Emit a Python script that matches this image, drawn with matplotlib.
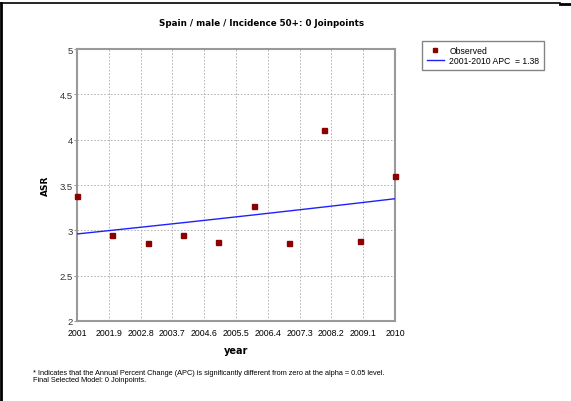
import numpy as np
import matplotlib
matplotlib.use('Agg')
import matplotlib.pyplot as plt
from matplotlib.lines import Line2D

years = [2001, 2002, 2003, 2004, 2005, 2006, 2007, 2008, 2009, 2010]
asr = [3.38, 2.95, 2.86, 2.95, 2.87, 3.27, 2.86, 4.11, 2.88, 3.60]
fit_start = 2.96
apc = 1.38
xticks = [2001, 2001.9, 2002.8, 2003.7, 2004.6, 2005.5, 2006.4, 2007.3, 2008.2, 2009.1, 2010]
xticklabels = ['2001', '2001.9', '2002.8', '2003.7', '2004.6', '2005.5', '2006.4',
               '2007.3', '2008.2', '2009.1', '2010']
yticks = [2, 2.5, 3, 3.5, 4, 4.5, 5]
yticklabels = ['2', '2.5', '3', '3.5', '4', '4.5', '5']

plt.rcParams['font.family'] = ['Liberation Sans', 'DejaVu Sans']

W, H = 571, 402
fig = plt.figure(figsize=(W / 100, H / 100), dpi=100)
ax = fig.add_axes([77 / W, (H - 322) / H, 318 / W, 272 / H])

yrs = np.array(years, dtype=float)
fit = fit_start * (1 + apc / 100) ** (yrs - yrs[0])
ax.plot(yrs, fit, color='#2020ff', lw=1, zorder=3)
ax.plot(years, asr, ls='none', marker='s', ms=3.6, color='#8b0000', zorder=4, clip_on=False)

ax.set_xlim(2001, 2010)
ax.set_ylim(2, 5)
ax.set_xticks(xticks)
ax.set_xticklabels(xticklabels, fontsize=6.3)
ax.set_yticks(yticks)
ax.set_yticklabels(yticklabels, fontsize=6.8, color='#333333')
ax.tick_params(axis='x', length=0, pad=5)
ax.tick_params(axis='y', length=2, pad=1, color='#999999')
ax.grid(True, ls=(0, (2, 2)), color='#aaaaaa', lw=0.6)
for s in ax.spines.values():
    s.set_color('#999999')
    s.set_linewidth(1.5)

fig.text(262 / W, 1 - 24 / H, 'Spain / male / Incidence 50+: 0 Joinpoints',
         ha='center', va='center', fontsize=6.3, fontweight='bold', family='DejaVu Sans')
fig.text(45 / W, 1 - 186 / H, 'ASR', rotation=90, ha='center', va='center',
         fontsize=6.5, fontweight='bold', family='DejaVu Sans')
fig.text(236 / W, 1 - 351 / H, 'year', ha='center', va='center', fontsize=7,
         fontweight='bold', family='DejaVu Sans')
fig.text(33 / W, 1 - 377 / H, '* Indicates that the Annual Percent Change (APC) is significantly '
         'different from zero at the alpha = 0.05 level.\nFinal Selected Model: 0 Joinpoints.',
         ha='left', va='center', fontsize=5.3, linespacing=1.05)

handles = [Line2D([], [], ls='none', marker='s', ms=2.8, color='#8b0000'),
           Line2D([], [], color='#2020ff', lw=1)]
leg = fig.legend(handles, ['Observed', '2001-2010 APC  = 1.38'],
                 loc='upper left', bbox_to_anchor=(422 / W, 1 - 42 / H),
                 fontsize=6.2, frameon=True, fancybox=False, handlelength=2.0,
                 borderpad=0.55, labelspacing=0.15, handletextpad=0.6, borderaxespad=0)
leg.get_frame().set_edgecolor('#666666')
leg.get_frame().set_linewidth(1)

# window border
fig.add_artist(Line2D([0, 560 / W], [1 - 4 / H, 1 - 4 / H], color='black', lw=1.2))
fig.add_artist(Line2D([560 / W, 1], [1 - 4.5 / H, 1 - 4.5 / H], color='black', lw=2))
fig.add_artist(Line2D([1 / W, 1 / W], [0, 1 - 4 / H], color='black', lw=2))

fig.savefig('out.png', dpi=100)
